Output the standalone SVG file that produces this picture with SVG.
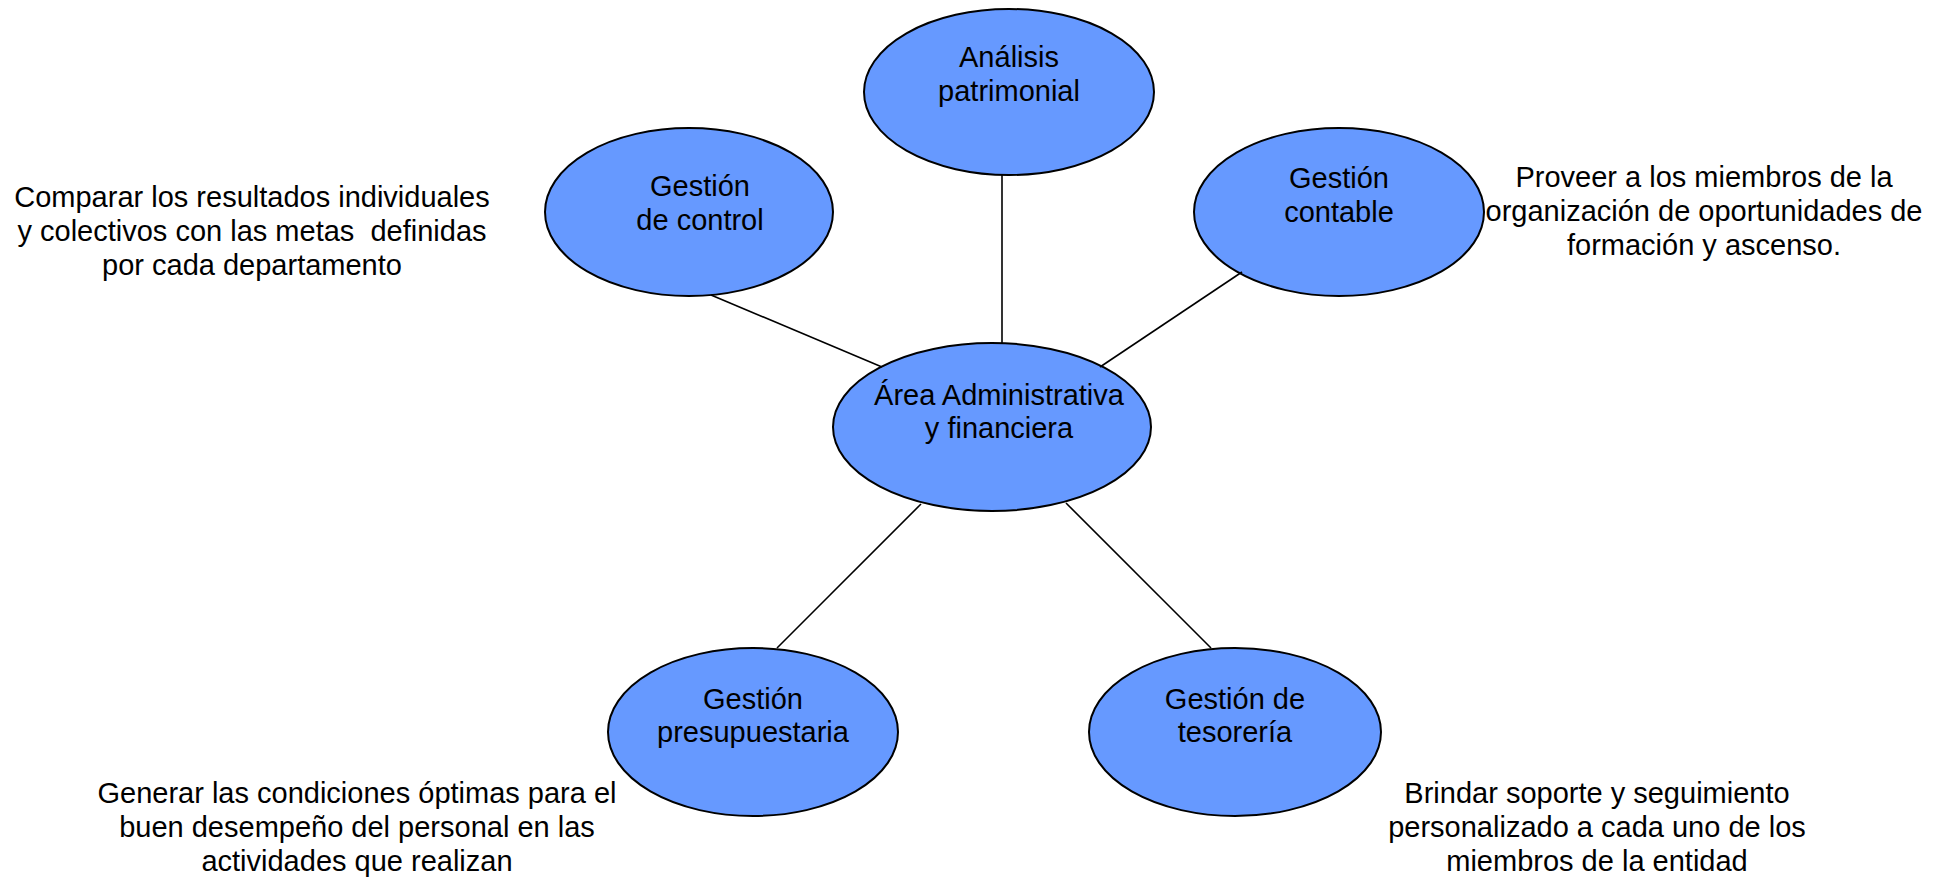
<svg xmlns="http://www.w3.org/2000/svg" width="1952" height="879" viewBox="0 0 1952 879">
  <style>
    .node { fill: #6699FF; stroke: #000000; stroke-width: 2; }
    .label { font-family: "Liberation Sans", Arial, sans-serif; font-size: 29px; fill: #000000; text-anchor: middle; }
    .link { stroke: #000000; stroke-width: 1.6; fill: none; }
  </style>
  <rect x="0" y="0" width="1952" height="879" fill="#ffffff"/>

  <!-- central node -->
  <g id="area-administrativa">
    <ellipse class="node" cx="992" cy="427" rx="159" ry="84"/>
    <text class="label" x="999" y="405">Área Administrativa</text>
    <text class="label" x="999" y="438">y financiera</text>
  </g>

  <g id="analisis-patrimonial">
    <ellipse class="node" cx="1009" cy="92" rx="145" ry="83"/>
    <text class="label" x="1009" y="67">Análisis</text>
    <text class="label" x="1009" y="101">patrimonial</text>
  </g>

  <g id="gestion-control">
    <ellipse class="node" cx="689" cy="212" rx="144" ry="84"/>
    <text class="label" x="700" y="196">Gestión</text>
    <text class="label" x="700" y="230">de control</text>
  </g>

  <g id="gestion-contable">
    <ellipse class="node" cx="1339" cy="212" rx="145" ry="84"/>
    <text class="label" x="1339" y="188">Gestión</text>
    <text class="label" x="1339" y="222">contable</text>
  </g>

  <g id="gestion-presupuestaria">
    <ellipse class="node" cx="753" cy="732" rx="145" ry="84"/>
    <text class="label" x="753" y="709">Gestión</text>
    <text class="label" x="753" y="742">presupuestaria</text>
  </g>

  <g id="gestion-tesoreria">
    <ellipse class="node" cx="1235" cy="732" rx="146" ry="84"/>
    <text class="label" x="1235" y="709">Gestión de</text>
    <text class="label" x="1235" y="742">tesorería</text>
  </g>

  <!-- free-standing notes -->
  <g id="nota-control">
    <text class="label" x="252" y="207">Comparar los resultados individuales</text>
    <text class="label" x="252" y="241" xml:space="preserve">y colectivos con las metas  definidas</text>
    <text class="label" x="252" y="275">por cada departamento</text>
  </g>

  <g id="nota-contable">
    <text class="label" x="1704" y="187">Proveer a los miembros de la</text>
    <text class="label" x="1704" y="221">organización de oportunidades de</text>
    <text class="label" x="1704" y="255">formación y ascenso.</text>
  </g>

  <g id="nota-presupuestaria">
    <text class="label" x="357" y="803">Generar las condiciones óptimas para el</text>
    <text class="label" x="357" y="837">buen desempeño del personal en las</text>
    <text class="label" x="357" y="871">actividades que realizan</text>
  </g>

  <g id="nota-tesoreria">
    <text class="label" x="1597" y="803">Brindar soporte y seguimiento</text>
    <text class="label" x="1597" y="837">personalizado a cada uno de los</text>
    <text class="label" x="1597" y="871">miembros de la entidad</text>
  </g>

  <!-- spokes from the central node -->
  <g id="connectors">
    <line class="link" x1="711" y1="295" x2="882" y2="367"/>
    <line class="link" x1="1002" y1="175" x2="1002" y2="344"/>
    <line class="link" x1="1242" y1="272" x2="1100" y2="367"/>
    <line class="link" x1="921" y1="504" x2="777" y2="648"/>
    <line class="link" x1="1066" y1="503" x2="1211" y2="648"/>
  </g>
</svg>
